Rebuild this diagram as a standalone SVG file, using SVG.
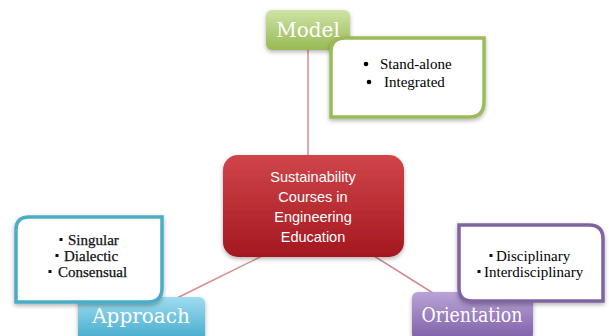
<svg xmlns="http://www.w3.org/2000/svg" width="609" height="336" viewBox="0 0 609 336">
<defs>
<linearGradient id="gGreen" x1="0" y1="0" x2="0" y2="1"><stop offset="0" stop-color="#cfe3a6"/><stop offset="1" stop-color="#98b954"/></linearGradient>
<linearGradient id="gBlue" x1="0" y1="0" x2="0" y2="1"><stop offset="0" stop-color="#9fdcef"/><stop offset="1" stop-color="#3fa9cc"/></linearGradient>
<linearGradient id="gPurple" x1="0" y1="0" x2="0" y2="1"><stop offset="0" stop-color="#b9a4d6"/><stop offset="1" stop-color="#7e5ea8"/></linearGradient>
<linearGradient id="gRed" x1="0" y1="0" x2="0" y2="1"><stop offset="0" stop-color="#d0454a"/><stop offset="1" stop-color="#a3181f"/></linearGradient>
<filter id="sh" x="-20%" y="-20%" width="140%" height="150%"><feDropShadow dx="0" dy="2" stdDeviation="2" flood-color="#000" flood-opacity="0.3"/></filter>
</defs>
<style>
.conn{stroke:#d88c8c;stroke-width:1.5;fill:none}
.title{font-family:"DejaVu Serif",serif;font-size:20px;fill:#fff;text-anchor:middle}
.center{font-family:"Liberation Sans",sans-serif;font-size:14.5px;fill:#fff;text-anchor:middle}
.list{font-family:"Liberation Serif",serif;font-size:15px;fill:#000}
.listb{font-family:"Liberation Serif",serif;font-size:15px;fill:#111;stroke:#111;stroke-width:0.25}
.box{fill:#fff;stroke-width:3.5}
</style>
<rect width="609" height="336" fill="#fff"/>
<g id="connectors">
<line class="conn" x1="308" y1="48" x2="308" y2="156"/>
<line class="conn" x1="262" y1="256" x2="177" y2="298"/>
<line class="conn" x1="374" y1="256" x2="433" y2="293"/>
</g>
<g id="center">
<rect x="223" y="155" width="181" height="102" rx="15" fill="url(#gRed)" filter="url(#sh)"/>
<text class="center" x="313" y="182">Sustainability</text>
<text class="center" x="313" y="202">Courses in</text>
<text class="center" x="313" y="222">Engineering</text>
<text class="center" x="313" y="242">Education</text>
</g>
<g id="model">
<rect x="266" y="10" width="84" height="40" rx="6" fill="url(#gGreen)" filter="url(#sh)"/>
<text class="title" x="308" y="37">Model</text>
</g>
<g id="model-list">
<path class="box" stroke="#9bbb59" d="M345,38 H484 V102 Q484,117 469,117 H331 V52 Q331,38 345,38 Z" filter="url(#sh)"/>
<circle cx="366" cy="64" r="2.3" fill="#000"/>
<text class="list" x="380" y="69">Stand-alone</text>
<circle cx="369" cy="82" r="2.3" fill="#000"/>
<text class="list" x="384" y="87">Integrated</text>
</g>
<g id="approach">
<rect x="78" y="297" width="127" height="45" rx="6" fill="url(#gBlue)" filter="url(#sh)"/>
<text class="title" x="141" y="323">Approach</text>
</g>
<g id="approach-list">
<path class="box" stroke="#4bacc6" d="M29,217 H162 V288 Q162,302 148,302 H16 V230 Q16,217 29,217 Z" filter="url(#sh)"/>
<rect x="59.5" y="238" width="3" height="3" fill="#111"/>
<text class="listb" x="68" y="245">Singular</text>
<rect x="55.5" y="254" width="3" height="3" fill="#111"/>
<text class="listb" x="64" y="261">Dialectic</text>
<rect x="48.5" y="270" width="3" height="3" fill="#111"/>
<text class="listb" x="58" y="277">Consensual</text>
</g>
<g id="orientation">
<rect x="412" y="292" width="121" height="48" rx="6" fill="url(#gPurple)" filter="url(#sh)"/>
<text class="title" x="472" y="322" textLength="101" lengthAdjust="spacingAndGlyphs">Orientation</text>
</g>
<g id="orientation-list">
<path class="box" stroke="#8064a2" d="M459,225 H589 Q603,225 603,239 V301 H472 Q459,301 459,288 Z" filter="url(#sh)"/>
<rect x="489.5" y="254" width="3" height="3" fill="#111"/>
<text class="list" x="496" y="261">Disciplinary</text>
<rect x="477.5" y="270" width="3" height="3" fill="#111"/>
<text class="list" x="484" y="277">Interdisciplinary</text>
</g>
</svg>
